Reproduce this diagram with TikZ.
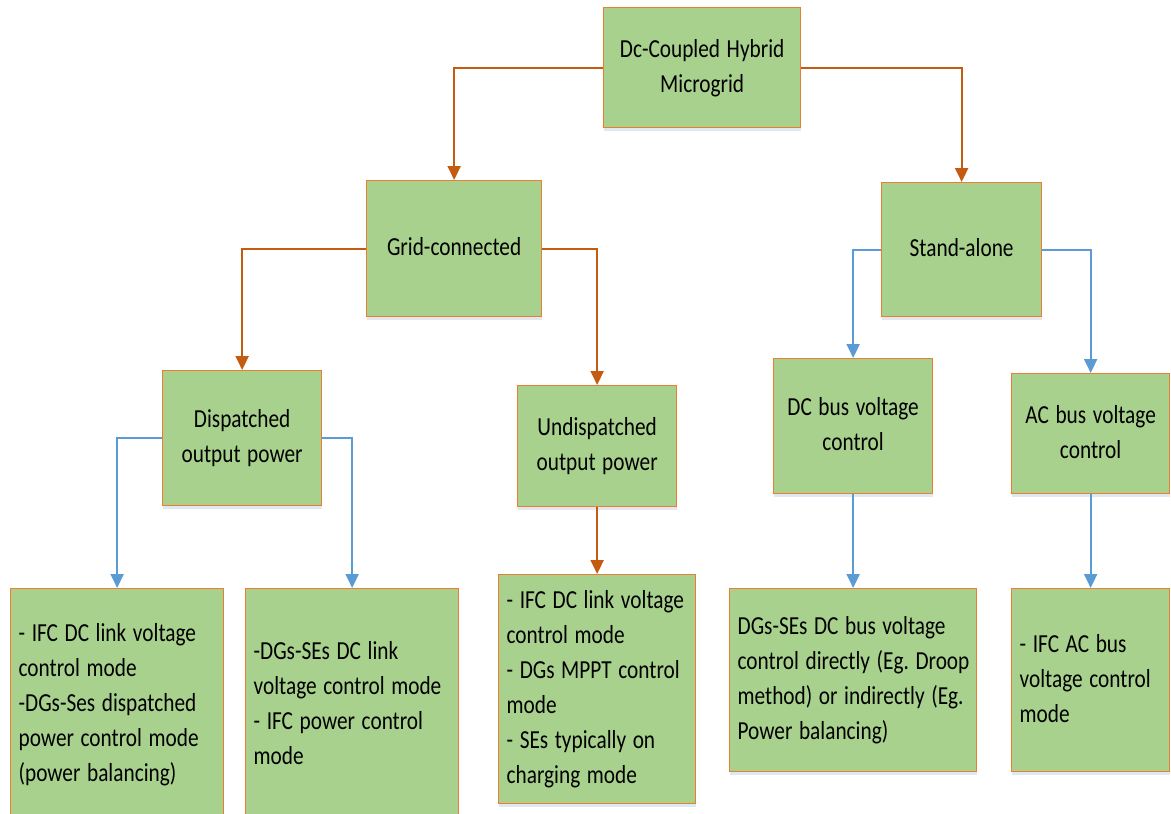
\documentclass[tikz,border=0pt]{standalone}
\usepackage{fontspec}
\usepackage{graphicx}
\setmainfont{Carlito}
\usetikzlibrary{arrows.meta,shadows}
\definecolor{boxfill}{HTML}{A9D18E}
\definecolor{boxline}{HTML}{ED7D31}
\definecolor{linkorange}{HTML}{C55A11}
\definecolor{linkblue}{HTML}{5B9BD5}
\definecolor{shade}{RGB}{226,232,242}
\newskip\boxwordgap
\boxwordgap=6.6pt
% narrow, tall lettering: text set at 21.3pt and stretched upwards
\newcommand\boxlines[2]{\scalebox{1}[1.22]{\fontsize{21.3}{28.7}\selectfont
  \frenchspacing\spaceskip=\boxwordgap
  \begin{tabular}{@{}#1@{}}#2\end{tabular}}}
\begin{document}
\begin{tikzpicture}[x=1pt,y=-1pt,
  box/.style={draw=boxline, line width=1.3pt, fill=boxfill, anchor=north west,
    inner xsep=8pt, inner ysep=0pt,
    drop shadow={shadow xshift=0.5pt, shadow yshift=-3.5pt, fill=shade, opacity=1}},
  head/.style={box, align=center},
  leaf/.style={box, align=left},
  olink/.style={draw=linkorange, line width=2pt, -{Triangle[width=13pt,length=14pt]}},
  blink/.style={draw=linkblue, line width=2pt, -{Triangle[width=13pt,length=14pt]}},
]
\useasboundingbox (0,0) rectangle (1171,814);
\clip (0,0) rectangle (1171,814);

% upper levels
\node[head, text width=181pt, minimum height=120pt] (top) at (603,7) {\boxlines{c}{Dc-Coupled Hybrid\\Microgrid}};
\node[head, text width=159pt, minimum height=136pt] (grid) at (366,180) {\boxlines{c}{Grid-connected}};
\node[head, text width=144pt, minimum height=134pt] (stand) at (881,182) {\boxlines{c}{Stand-alone}};
\node[head, text width=143pt, minimum height=135pt] (disp) at (162,370) {\boxlines{c}{Dispatched\\output power}};
\node[head, text width=143pt, minimum height=121pt] (undisp) at (517,385) {\boxlines{c}{Undispatched\\output power}};
\node[head, text width=143pt, minimum height=135pt] (dcbus) at (773,358) {\boxlines{c}{DC bus voltage\\control}};
\node[head, text width=142pt, minimum height=120pt] (acbus) at (1011,373) {\boxlines{c}{AC bus voltage\\control}};

% control modes
\node[leaf, text width=197pt, minimum height=232pt] (m1) at (10,588)
  {\boxlines{l}{- IFC DC link voltage\\control mode\\-DGs-Ses dispatched\\power control mode\\(power balancing)}};
\node[leaf, text width=197pt, minimum height=232pt] (m2) at (245,588)
  {\boxlines{l}{-DGs-SEs DC link\\voltage control mode\\- IFC power control\\mode}};
\node[leaf, text width=181pt, minimum height=229pt] (m3) at (498,574)
  {\boxlines{l}{- IFC DC link voltage\\control mode\\- DGs MPPT control\\mode\\- SEs typically on\\charging mode}};
\node[leaf, text width=231pt, minimum height=183pt] (m4) at (729,588)
  {\boxlines{l}{DGs-SEs DC bus voltage\\control directly (Eg. Droop\\method) or indirectly (Eg.\\Power balancing)}};
\node[leaf, text width=142pt, minimum height=183pt] (m5) at (1011,588)
  {\boxlines{l}{- IFC AC bus\\voltage control\\mode}};

% connectors
\draw[olink] (top.west) -| (grid.north);
\draw[olink] (top.east) -| (stand.north);
\draw[olink] (grid.west) -| (disp.north);
\draw[olink] (grid.east) -| (undisp.north);
\draw[blink] (stand.west) -| (dcbus.north);
\draw[blink] (stand.east) -| (acbus.north);
\draw[blink] (disp.west) -| (m1.north);
\draw[blink] (disp.east) -| (m2.north);
\draw[olink] (undisp.south) -- (m3.north);
\draw[blink] (dcbus.south) -- (m4.north);
\draw[blink] (acbus.south) -- (m5.north);
\end{tikzpicture}
\end{document}
